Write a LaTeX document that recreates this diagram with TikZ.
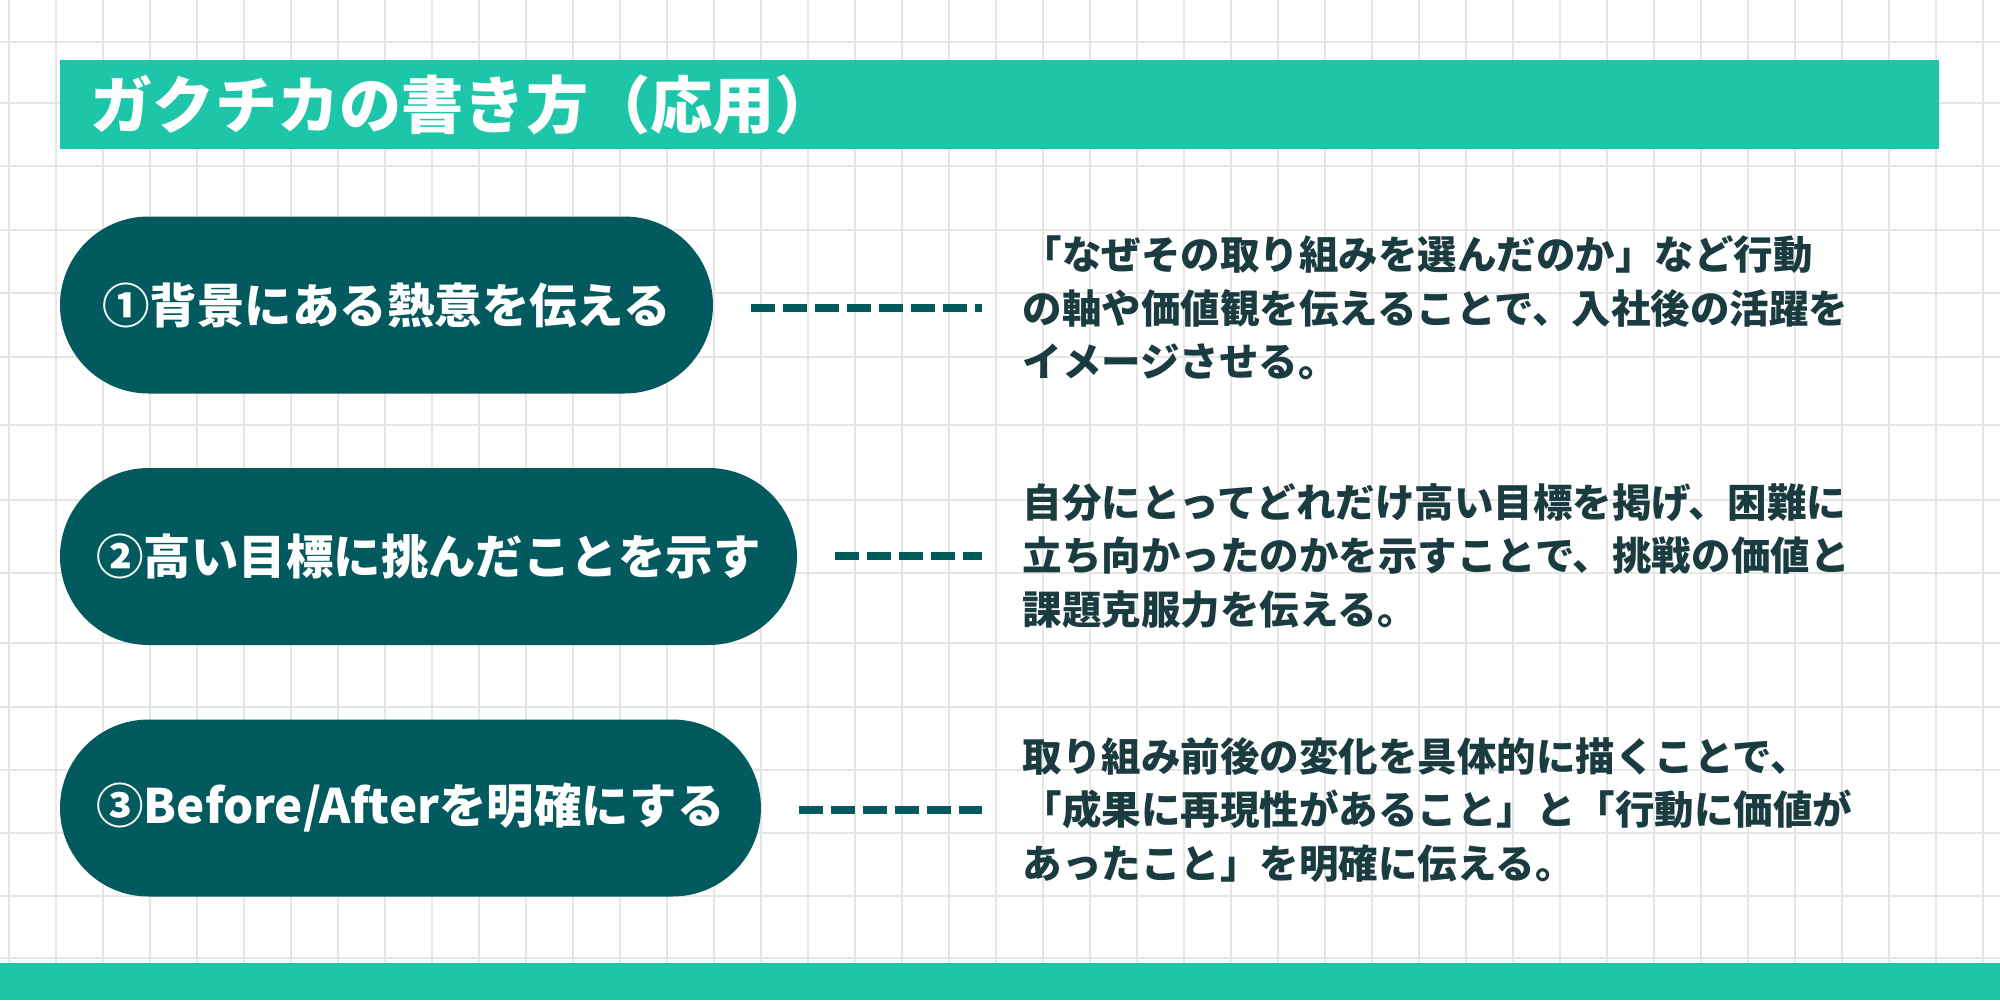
\documentclass[tikz,border=0pt]{standalone}
\usepackage{fontspec}
\setmainfont{Noto Sans CJK JP}
\definecolor{titlec}{HTML}{1EC6A9}
\definecolor{pillc}{HTML}{035A5E}
\definecolor{textc}{HTML}{1A3B3F}
\definecolor{gridc}{HTML}{E6E6E6}
\tikzset{
  gridline/.style={draw=gridc, line width=0.18mm},
  bar/.style={fill=titlec, inner sep=0pt, outer sep=0pt},
  titletext/.style={text=white, inner sep=0pt, anchor=west, font=\fontsize{17.7pt}{20pt}\selectfont\bfseries},
  pill/.style={fill=pillc, text=white, rounded corners=8.85mm, minimum height=17.7mm, inner sep=0pt, outer sep=0pt, font=\fontsize{13.5pt}{16pt}\selectfont\bfseries},
  desc/.style={text=textc, inner sep=0pt, anchor=west, align=left, font=\fontsize{11.24pt}{15.2pt}\selectfont\bfseries},
  dashc/.style={draw=pillc, line width=0.8mm, dash pattern=on 2.4mm off 0.8mm, shorten <=3.8mm, shorten >=4mm}
}
\begin{document}
\begin{tikzpicture}[x=0.1mm,y=-0.1mm]
\useasboundingbox (0,0) rectangle (2000,1000);
\fill[white] (0,0) rectangle (2000,1000);
% grid
\foreach \i in {0,...,42} \draw[gridline] ({9+47*\i},0) -- ({9+47*\i},1000);
\foreach \y in {42,103,166,230,293,357,425,500,573,643,707,770,833,896,958} \draw[gridline] (0,\y) -- (2000,\y);
% title bar
\node (tbar) [bar, anchor=north west, minimum width=187.9mm, minimum height=8.9mm] at (60,60) {};
\node (ttl) [titletext] at (90,104.5) {ガクチカの書き方（応用）};
% bottom bar
\node (bbar) [bar, anchor=north west, minimum width=200mm, minimum height=3.7mm] at (0,963) {};
% pills
\node (p1) [pill, minimum width=65.3mm] at (386.5,305) {①背景にある熱意を伝える};
\node (p2) [pill, minimum width=73.7mm] at (428.5,556.5) {②高い目標に挑んだことを示す};
\node (p3) [pill, minimum width=70.1mm] at (410.5,808) {③Before/Afterを明確にする};
% descriptions
\node (t1) [desc] at (1022,308) {「なぜその取り組みを選んだのか」など行動\\の軸や価値観を伝えることで、入社後の活躍を\\イメージさせる。};
\node (t2) [desc] at (1022,556) {自分にとってどれだけ高い目標を掲げ、困難に\\立ち向かったのかを示すことで、挑戦の価値と\\課題克服力を伝える。};
\node (t3) [desc] at (1022,810) {取り組み前後の変化を具体的に描くことで、\\「成果に再現性があること」と「行動に価値が\\あったこと」を明確に伝える。};
% connectors
\draw[dashc] (p1.east |- t1.west) -- (t1.west);
\draw[dashc] (p2.east |- t2.west) -- (t2.west);
\draw[dashc] (p3.east |- t3.west) -- (t3.west);
\end{tikzpicture}
\end{document}
